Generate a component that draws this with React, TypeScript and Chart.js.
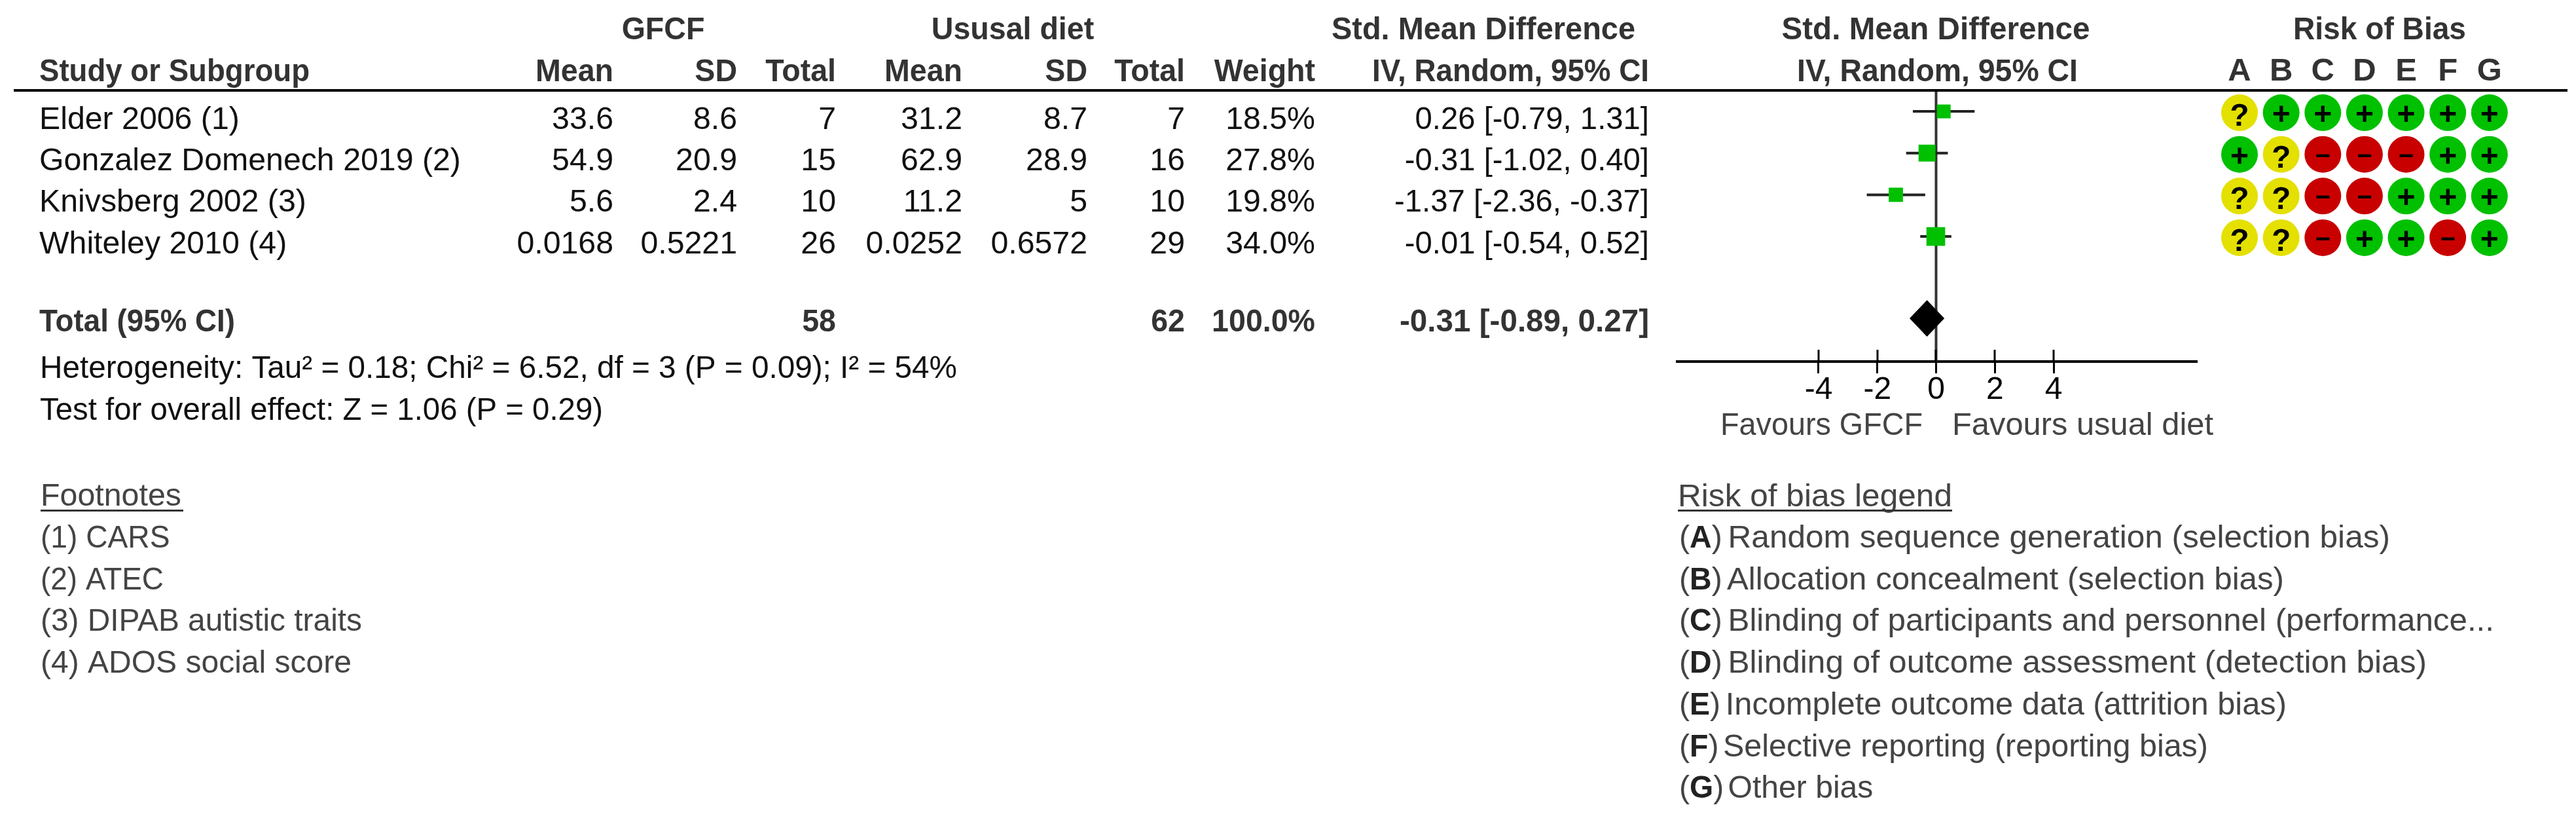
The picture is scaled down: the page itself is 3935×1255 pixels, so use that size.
import React, { useEffect, useRef } from "react";
import { Chart, registerables } from "chart.js";

Chart.register(...registerables);

const studies = ["Elder 2006 (1)", "Gonzalez Domenech 2019 (2)", "Knivsberg 2002 (3)", "Whiteley 2010 (4)"];
const gfcfMean = [33.6, 54.9, 5.6, 0.0168];
const gfcfSd = [8.6, 20.9, 2.4, 0.5221];
const gfcfTotal = [7, 15, 10, 26];
const dietMean = [31.2, 62.9, 11.2, 0.0252];
const dietSd = [8.7, 28.9, 5, 0.6572];
const dietTotal = [7, 16, 10, 29];
const weights = [18.5, 27.8, 19.8, 34.0];
const smd = [0.26, -0.31, -1.37, -0.01];
const ciLow = [-0.79, -1.02, -2.36, -0.54];
const ciHigh = [1.31, 0.40, -0.37, 0.52];
const totalLabel = "Total (95% CI)";
const totalGfcf = 58;
const totalDiet = 62;
const totalWeight = 100.0;
const totalSmd = -0.31;
const totalLow = -0.89;
const totalHigh = 0.27;
const heterogeneity = "Heterogeneity: Tau\u00b2 = 0.18; Chi\u00b2 = 6.52, df = 3 (P = 0.09); I\u00b2 = 54%";
const overallEffect = "Test for overall effect: Z = 1.06 (P = 0.29)";
const footnotes = ["(1) CARS", "(2) ATEC", "(3) DIPAB autistic traits", "(4) ADOS social score"];
const axisTicks = [-4, -2, 0, 2, 4];
const riskDomains = ["A", "B", "C", "D", "E", "F", "G"];
const riskElder = ["?", "+", "+", "+", "+", "+", "+"];
const riskGonzalez = ["+", "?", "-", "-", "-", "+", "+"];
const riskKnivsberg = ["?", "?", "-", "-", "+", "+", "+"];
const riskWhiteley = ["?", "?", "-", "+", "+", "-", "+"];
const riskLegend = [
  "Random sequence generation (selection bias)",
  "Allocation concealment (selection bias)",
  "Blinding of participants and personnel (performance...",
  "Blinding of outcome assessment (detection bias)",
  "Incomplete outcome data (attrition bias)",
  "Selective reporting (reporting bias)",
  "Other bias",
];

const W = 3935;
const H = 1255;
const GREEN = "#00c000";
const YELLOW = "#e4e000";
const RED = "#c80000";
const FONT = '"Liberation Sans", Arial, sans-serif';
const TOTAL_ROW = 4.965;

type TextOpts = { bold?: boolean; align?: "left" | "right" | "center"; color?: string; sx?: number; w?: number };

function put(ctx: CanvasRenderingContext2D, s: string, x: number, y: number, o: TextOpts = {}) {
  ctx.save();
  ctx.font = `${o.bold ? "bold " : ""}49px ${FONT}`;
  ctx.fillStyle = o.color ?? "#111";
  ctx.textAlign = o.align ?? "left";
  ctx.textBaseline = "alphabetic";
  const natural = ctx.measureText(s).width;
  const sx = o.w ? o.w / natural : o.sx ?? (o.bold ? 0.95 : 0.985);
  ctx.translate(x, y);
  ctx.scale(sx, 1);
  ctx.fillText(s, 0, 0);
  ctx.restore();
  return natural * sx;
}

const tablePlugin = {
  id: "table",
  afterDraw(chart: any) {
    const ctx: CanvasRenderingContext2D = chart.ctx;
    const head = "#333";
    const soft = "#444";
    put(ctx, "GFCF", 1013, 60, { bold: true, align: "center", color: head });
    put(ctx, "Ususal diet", 1547, 60, { bold: true, align: "center", color: head });
    put(ctx, "Std. Mean Difference", 2266, 60, { bold: true, align: "center", color: head, w: 464 });
    put(ctx, "Std. Mean Difference", 2957, 60, { bold: true, align: "center", color: head, w: 471 });
    put(ctx, "Risk of Bias", 3635, 60, { bold: true, align: "center", color: head, w: 264 });

    put(ctx, "Study or Subgroup", 60, 124, { bold: true, color: head, w: 413 });
    const rights = [937, 1126, 1277, 1470, 1661, 1810];
    const heads = ["Mean", "SD", "Total", "Mean", "SD", "Total"];
    heads.forEach((h, i) => put(ctx, h, rights[i], 124, { bold: true, align: "right", color: head }));
    put(ctx, "Weight", 2009, 124, { bold: true, align: "right", color: head });
    put(ctx, "IV, Random, 95% CI", 2519, 124, { bold: true, align: "right", color: head, w: 423 });
    put(ctx, "IV, Random, 95% CI", 2959.5, 124, { bold: true, align: "center", color: head, w: 429 });

    ctx.save();
    ctx.fillStyle = "#000";
    ctx.fillRect(21, 136, 3901, 4);
    ctx.restore();

    const base = [197, 260, 323, 387];
    const ci = (m: number, l: number, h: number) => `${m.toFixed(2)} [${l.toFixed(2)}, ${h.toFixed(2)}]`;
    studies.forEach((s, i) => {
      const y = base[i];
      put(ctx, s, 60, y);
      [gfcfMean[i], gfcfSd[i], gfcfTotal[i], dietMean[i], dietSd[i], dietTotal[i]].forEach((v, c) =>
        put(ctx, String(v), rights[c], y, { align: "right" })
      );
      put(ctx, `${weights[i].toFixed(1)}%`, 2009, y, { align: "right" });
      put(ctx, ci(smd[i], ciLow[i], ciHigh[i]), 2519, y, { align: "right", sx: 0.965 });
    });

    put(ctx, totalLabel, 60, 506, { bold: true, color: head, w: 299 });
    put(ctx, String(totalGfcf), 1277, 506, { bold: true, align: "right", color: head });
    put(ctx, String(totalDiet), 1810, 506, { bold: true, align: "right", color: head });
    put(ctx, `${totalWeight.toFixed(1)}%`, 2009, 506, { bold: true, align: "right", color: head });
    put(ctx, ci(totalSmd, totalLow, totalHigh), 2519, 506, { bold: true, align: "right", color: head, w: 381 });

    put(ctx, heterogeneity, 61, 577, { w: 1401 });
    put(ctx, overallEffect, 61, 641, { w: 860 });

    put(ctx, "Footnotes", 62, 772, { color: soft, w: 215 });
    ctx.fillStyle = "#333";
    ctx.fillRect(62, 778, 218, 3);
    const footW = [197.5, 188, 491, 475];
    footnotes.forEach((f, i) => put(ctx, f, 62, 836 + i * 63.7, { color: soft, w: footW[i] }));

    put(ctx, "Favours GFCF", 2628, 664, { color: soft, w: 309 });
    put(ctx, "Favours usual diet", 2982, 664, { color: soft, w: 399 });

    put(ctx, "Risk of bias legend", 2563, 773, { color: soft, w: 419 });
    ctx.fillStyle = "#333";
    ctx.fillRect(2563, 778, 419, 3);
    const legStart = [2639.5, 2638, 2639.5, 2639.5, 2635.7, 2632, 2639.5];
    const legEnd = [3651, 3489, 3810, 3707, 3493, 3373, 2861.4];
    riskLegend.forEach((t, i) => {
      const y = 836 + i * 63.7;
      let x = 2565;
      x += put(ctx, "(", x, y, { color: soft });
      x += put(ctx, riskDomains[i], x, y, { bold: true, color: "#222" });
      put(ctx, ")", x, y, { color: soft });
      put(ctx, t, legStart[i], y, { color: soft, w: legEnd[i] - legStart[i] });
    });

    const sc = chart.scales.x;
    ctx.save();
    ctx.strokeStyle = "#000";
    ctx.lineWidth = 3;
    axisTicks.forEach((t) => {
      const px = Math.round(sc.getPixelForValue(t));
      ctx.beginPath();
      ctx.moveTo(px, sc.top - 18);
      ctx.lineTo(px, sc.top);
      ctx.stroke();
    });
    ctx.restore();
  },
};

const symbolPlugin = {
  id: "symbols",
  afterDatasetsDraw(chart: any) {
    const ctx: CanvasRenderingContext2D = chart.ctx;
    chart.data.datasets.forEach((ds: any, di: number) => {
      chart.getDatasetMeta(di).data.forEach((el: any) => {
        ctx.save();
        ctx.fillStyle = "#000";
        ctx.textAlign = "center";
        ctx.textBaseline = "alphabetic";
        if (ds.label === "?") {
          ctx.font = `bold 48px ${FONT}`;
          ctx.fillText("?", el.x, el.y + 20);
        } else if (ds.label === "+") {
          ctx.font = `bold 48px ${FONT}`;
          ctx.fillText("+", el.x, el.y + 18);
        } else {
          ctx.font = `bold 40px ${FONT}`;
          ctx.fillText("\u2212", el.x, el.y + 15);
        }
        ctx.restore();
      });
    });
  },
};

export default function App() {
  const forestRef = useRef<HTMLCanvasElement>(null);
  const riskRef = useRef<HTMLCanvasElement>(null);

  useEffect(() => {
    const forest = new Chart(forestRef.current!, {
      type: "scatter",
      data: {
        datasets: [
          {
            label: "Study effect",
            data: studies.map((_, i) => ({ x: smd[i], y: i })),
            pointStyle: "rect",
            backgroundColor: GREEN,
            borderWidth: 0,
            pointBorderWidth: 0,
            pointRadius: weights.map((w) => (4.9 * Math.sqrt(w)) / Math.SQRT2),
            clip: false,
          } as any,
          {
            label: "Pooled effect",
            data: [
              { x: totalLow, y: TOTAL_ROW },
              { x: totalSmd, y: TOTAL_ROW - 0.43 },
              { x: totalHigh, y: TOTAL_ROW },
              { x: totalSmd, y: TOTAL_ROW + 0.43 },
              { x: totalLow, y: TOTAL_ROW },
            ],
            showLine: true,
            fill: "shape",
            backgroundColor: "#000",
            borderColor: "#000",
            borderWidth: 1,
            pointRadius: 0,
            tension: 0,
            clip: false,
          } as any,
          ...studies.map((s, i) => ({
            label: s,
            data: [
              { x: ciLow[i], y: i },
              { x: ciHigh[i], y: i },
            ],
            showLine: true,
            borderColor: "#222",
            borderWidth: 4,
            pointRadius: 0,
            clip: false,
          })),
          {
            label: "No effect",
            data: [
              { x: 0, y: -0.52 },
              { x: 0, y: 6 },
            ],
            showLine: true,
            borderColor: "#333",
            borderWidth: 4,
            pointRadius: 0,
            clip: false,
          },
        ],
      },
      options: {
        animation: false,
        responsive: false,
        maintainAspectRatio: false,
        devicePixelRatio: 1,
        events: [],
        layout: { padding: { left: 2562, right: W - 3356, top: 137, bottom: H - 552 - 70 } },
        plugins: { legend: { display: false }, tooltip: { enabled: false } },
        scales: {
          x: {
            type: "linear",
            min: -8.813,
            max: 8.88,
            afterBuildTicks: (s: any) => {
              s.ticks = axisTicks.map((v) => ({ value: v }));
            },
            afterFit: (s: any) => {
              s.height = 70;
            },
            grid: { drawOnChartArea: false, drawTicks: true, tickLength: 18, tickColor: "#000", tickWidth: 3 },
            border: { display: true, color: "#000", width: 4 },
            ticks: {
              color: "#000",
              font: { family: FONT, size: 48 },
              padding: -3,
              maxRotation: 0,
              autoSkip: false,
              callback: (v: any) => String(v),
            },
          },
          y: { type: "linear", reverse: true, min: -0.52, max: 6, display: false },
        },
      } as any,
      plugins: [tablePlugin],
    });

    const rows = [riskElder, riskGonzalez, riskKnivsberg, riskWhiteley];
    const pick = (mark: string) =>
      rows.flatMap((row, r) =>
        row.flatMap((m, c) => (m === mark ? [{ x: riskDomains[c], y: r }] : []))
      );
    const risk = new Chart(riskRef.current!, {
      type: "scatter",
      data: {
        datasets: [
          { label: "?", data: pick("?"), backgroundColor: YELLOW },
          { label: "+", data: pick("+"), backgroundColor: GREEN },
          { label: "-", data: pick("-"), backgroundColor: RED },
        ].map((d) => ({ ...d, pointRadius: 28, pointBorderWidth: 0, borderWidth: 0, clip: false })) as any,
      },
      options: {
        animation: false,
        responsive: false,
        maintainAspectRatio: false,
        devicePixelRatio: 1,
        events: [],
        layout: { padding: { left: 39.2, right: 100.4, top: 0, bottom: 35.2 } },
        plugins: { legend: { display: false }, tooltip: { enabled: false } },
        scales: {
          x: {
            type: "category",
            labels: riskDomains,
            position: "top",
            offset: true,
            afterFit: (s: any) => {
              s.height = 80.2;
            },
            grid: { display: false, drawTicks: false },
            border: { display: false },
            ticks: {
              color: "#333",
              font: { family: FONT, size: 49, weight: "bold" },
              padding: 1,
              maxRotation: 0,
              autoSkip: false,
            },
          },
          y: { type: "linear", reverse: true, min: -0.5, max: 3.5, display: false },
        },
      } as any,
      plugins: [symbolPlugin],
    });

    return () => {
      forest.destroy();
      risk.destroy();
    };
  }, []);

  return (
    <>
      <canvas
        ref={forestRef}
        width={W}
        height={H}
        style={{ position: "absolute", left: 0, top: 0, width: W, height: H, display: "block" }}
      />
      <canvas
        ref={riskRef}
        width={585}
        height={370}
        style={{ position: "absolute", left: 3350, top: 60, width: 585, height: 370, display: "block" }}
      />
    </>
  );
}
